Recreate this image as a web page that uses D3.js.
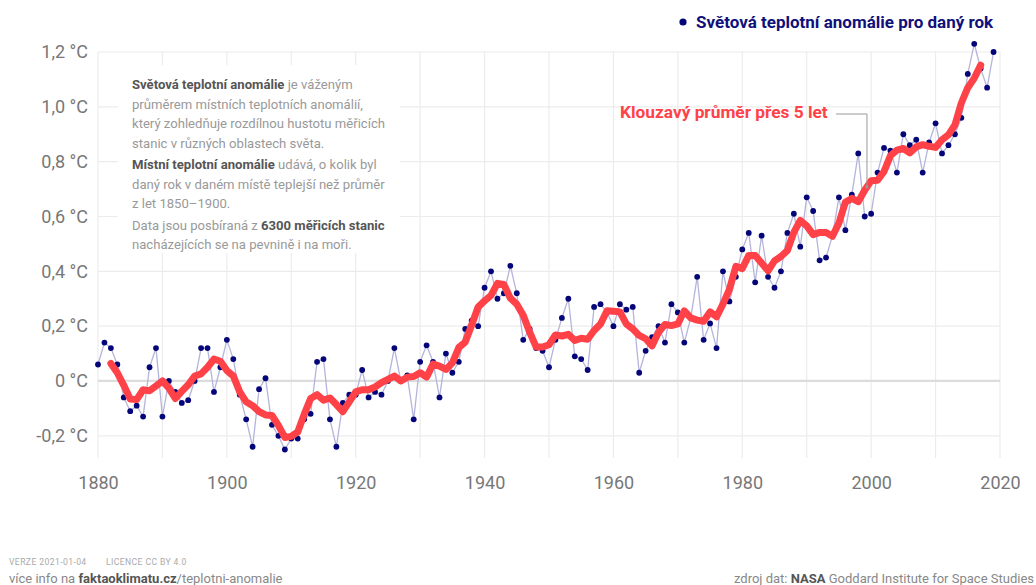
<!DOCTYPE html>
<html>
<head>
<meta charset="utf-8">
<script src="https://cdn.jsdelivr.net/npm/d3@7"></script>
<style>
  html, body { margin: 0; padding: 0; background: #fff; }
  svg { display: block; font-family: Roboto, "Noto Sans", sans-serif; }
</style>
</head>
<body>
<svg id="chart" width="1036" height="585"></svg>
<script>
// ---------- DATA ----------
const years = d3.range(1880, 2020); // 1880..2019
const anomaly = [
  0.06, 0.14, 0.12, 0.06, -0.06, -0.11, -0.09, -0.13, 0.05, 0.12,
  -0.13, 0.00, -0.04, -0.08, -0.07, 0.00, 0.12, 0.12, -0.04, 0.05,
  0.15, 0.08, -0.05, -0.14, -0.24, -0.03, 0.01, -0.16, -0.20, -0.25,
  -0.21, -0.21, -0.14, -0.12, 0.07, 0.08, -0.14, -0.24, -0.08, -0.05,
  -0.05, 0.04, -0.06, -0.04, -0.05, 0.00, 0.12, 0.00, 0.02, -0.14,
  0.07, 0.13, 0.07, -0.06, 0.10, 0.03, 0.07, 0.19, 0.22, 0.20,
  0.34, 0.40, 0.30, 0.32, 0.42, 0.32, 0.15, 0.19, 0.12, 0.11,
  0.05, 0.15, 0.23, 0.30, 0.09, 0.08, 0.04, 0.27, 0.28, 0.25,
  0.20, 0.28, 0.26, 0.27, 0.03, 0.11, 0.16, 0.20, 0.14, 0.28,
  0.25, 0.14, 0.23, 0.38, 0.15, 0.21, 0.12, 0.40, 0.29, 0.38,
  0.48, 0.54, 0.36, 0.53, 0.38, 0.34, 0.40, 0.54, 0.61, 0.49,
  0.67, 0.62, 0.44, 0.45, 0.53, 0.67, 0.55, 0.68, 0.83, 0.60,
  0.61, 0.76, 0.85, 0.84, 0.76, 0.90, 0.86, 0.88, 0.76, 0.87,
  0.94, 0.83, 0.86, 0.90, 0.96, 1.12, 1.23, 1.14, 1.07, 1.20
];
const maYears = d3.range(1882, 2018); // 1882..2017
const movingAvg = [
  0.064, 0.030, -0.016, -0.066, -0.068, -0.032, -0.036, -0.018,
  0.000, -0.026, -0.064, -0.038, -0.014, 0.018, 0.026, 0.050, 0.080, 0.072,
  0.038, 0.018, -0.040, -0.076, -0.090, -0.112, -0.124, -0.126, -0.162, -0.206,
  -0.202, -0.186, -0.122, -0.064, -0.050, -0.070, -0.062, -0.086, -0.112, -0.076,
  -0.040, -0.032, -0.032, -0.022, -0.006, 0.006, 0.018, 0.000, 0.014, 0.016,
  0.030, 0.014, 0.062, 0.054, 0.042, 0.066, 0.122, 0.142, 0.204, 0.270,
  0.292, 0.312, 0.356, 0.352, 0.302, 0.280, 0.240, 0.178, 0.124, 0.124,
  0.132, 0.168, 0.164, 0.170, 0.148, 0.156, 0.152, 0.184, 0.208, 0.256,
  0.254, 0.252, 0.208, 0.190, 0.166, 0.154, 0.128, 0.178, 0.206, 0.202,
  0.208, 0.256, 0.230, 0.222, 0.218, 0.252, 0.234, 0.280, 0.334, 0.418,
  0.410, 0.458, 0.458, 0.430, 0.402, 0.438, 0.454, 0.476, 0.542, 0.586,
  0.566, 0.534, 0.542, 0.542, 0.528, 0.576, 0.652, 0.666, 0.654, 0.696,
  0.730, 0.732, 0.764, 0.822, 0.842, 0.848, 0.832, 0.854, 0.862, 0.856,
  0.852, 0.880, 0.898, 0.934, 1.014, 1.070, 1.104, 1.152
];
const yTicks = [-0.2, 0, 0.2, 0.4, 0.6, 0.8, 1.0, 1.2];
const yTickLabels = ["-0,2 °C", "0 °C", "0,2 °C", "0,4 °C", "0,6 °C", "0,8 °C", "1,0 °C", "1,2 °C"];
const xTicks = [1880, 1900, 1920, 1940, 1960, 1980, 2000, 2020];
const xGrid = d3.range(1880, 2021, 10);
const legendLabel = "Světová teplotní anomálie pro daný rok";
const maLabel = "Klouzavý průměr přes 5 let";

// ---------- SETUP ----------
const svg = d3.select("#chart");
const plotLeft = 98, plotRight = 1000, plotTop = 52, gridBottom = 458;
const x = d3.scaleLinear().domain([1880, 2020]).range([plotLeft, plotRight]);
const y = d3.scaleLinear().domain([-0.2, 1.2]).range([435.8, plotTop]);

const annual = years.map((yr, i) => ({ yr, v: anomaly[i] }));
const ma = maYears.map((yr, i) => ({ yr, v: movingAvg[i] }));

// grid
const grid = svg.append("g");
grid.selectAll("line.v").data(xGrid).join("line")
  .attr("x1", d => x(d)).attr("x2", d => x(d))
  .attr("y1", plotTop).attr("y2", gridBottom)
  .attr("stroke", "#ececec").attr("stroke-width", 1.2);
grid.selectAll("line.h").data(yTicks).join("line")
  .attr("x1", plotLeft).attr("x2", plotRight)
  .attr("y1", d => y(d)).attr("y2", d => y(d))
  .attr("stroke", d => d === 0 ? "#dcdcdc" : "#ececec")
  .attr("stroke-width", d => d === 0 ? 2.2 : 1.2);

// axes
const yAxis = svg.append("g").attr("transform", `translate(${plotLeft},0)`)
  .call(d3.axisLeft(y).tickValues(yTicks).tickSize(0).tickPadding(10)
    .tickFormat((d, i) => yTickLabels[i]));
yAxis.select(".domain").remove();
yAxis.selectAll("text").attr("fill", "#777").attr("font-size", 18)
  .attr("font-family", "Roboto, sans-serif");

const xAxis = svg.append("g").attr("transform", `translate(0,${gridBottom})`)
  .call(d3.axisBottom(x).tickValues(xTicks).tickSize(0).tickPadding(18)
    .tickFormat(d3.format("d")));
xAxis.select(".domain").remove();
xAxis.selectAll("text").attr("fill", "#777").attr("font-size", 18)
  .attr("font-family", "Roboto, sans-serif");

// info box
svg.append("rect").attr("x", 118).attr("y", 65).attr("width", 282).attr("height", 188)
  .attr("fill", "#fff");
const infoLines = [
  [["Světová teplotní anomálie", true], [" je váženým", false]],
  [["průměrem místních teplotních anomálií,", false]],
  [["který zohledňuje rozdílnou hustotu měřicích", false]],
  [["stanic v různých oblastech světa.", false]],
  [["Místní teplotní anomálie", true], [" udává, o kolik byl", false]],
  [["daný rok v daném místě teplejší než průměr", false]],
  [["z let 1850–1900.", false]],
  [["Data jsou posbíraná z ", false], ["6300 měřicích stanic", true]],
  [["nacházejících se na pevnině i na moři.", false]]
];
const infoY = [89, 108.5, 128, 147.5, 169, 188.5, 208, 229.5, 249];
infoLines.forEach((parts, li) => {
  const t = svg.append("text").attr("x", 132).attr("y", infoY[li])
    .attr("font-size", 13.1).attr("fill", "#999");
  parts.forEach(([s, b]) => {
    t.append("tspan").text(s)
      .attr("font-weight", b ? 700 : 400)
      .attr("fill", b ? "#555" : "#999");
  });
});

// annual line + dots
svg.append("path").datum(annual)
  .attr("fill", "none").attr("stroke", "#b4b4dc").attr("stroke-width", 1.3)
  .attr("d", d3.line().x(d => x(d.yr)).y(d => y(d.v)));
svg.append("g").selectAll("circle").data(annual).join("circle")
  .attr("cx", d => x(d.yr)).attr("cy", d => y(d.v)).attr("r", 2.9)
  .attr("fill", "#05057a");

// moving average
svg.append("path").datum(ma)
  .attr("fill", "none").attr("stroke", "#ff4148").attr("stroke-width", 7)
  .attr("stroke-linejoin", "round").attr("stroke-linecap", "round")
  .attr("d", d3.line().x(d => x(d.yr)).y(d => y(d.v)));

// moving average label + leader
const leaderYear = 1999.35;
const i99 = maYears.indexOf(1999);
const leaderVal = movingAvg[i99] + (movingAvg[i99 + 1] - movingAvg[i99]) * (leaderYear - 1999);
svg.append("text").attr("x", 620).attr("y", 118).text(maLabel)
  .attr("font-size", 17.3).attr("font-weight", 700).attr("fill", "#ff4148");
svg.append("path")
  .attr("d", `M836,114 H${x(leaderYear)} V${y(leaderVal)}`)
  .attr("fill", "none").attr("stroke", "#999").attr("stroke-width", 1);
svg.append("circle").attr("cx", x(leaderYear)).attr("cy", y(leaderVal)).attr("r", 1.6)
  .attr("fill", "#999");

// legend
svg.append("circle").attr("cx", 683).attr("cy", 22).attr("r", 3.6).attr("fill", "#05057a");
svg.append("text").attr("x", 696).attr("y", 28).text(legendLabel)
  .attr("font-size", 17).attr("font-weight", 700).attr("fill", "#10107a");

// footer
svg.append("text").attr("x", 9).attr("y", 564.5).text("VERZE 2021-01-04")
  .attr("font-size", 8.6).attr("fill", "#aaa").attr("letter-spacing", 0.4);
svg.append("text").attr("x", 106).attr("y", 564.5).text("LICENCE CC BY 4.0")
  .attr("font-size", 8.6).attr("fill", "#aaa").attr("letter-spacing", 0.4);
const f1 = svg.append("text").attr("x", 9).attr("y", 583).attr("font-size", 13).attr("fill", "#888");
f1.append("tspan").text("více info na ");
f1.append("tspan").text("faktaoklimatu.cz").attr("font-weight", 700).attr("fill", "#555");
f1.append("tspan").text("/teplotni-anomalie");
const f2 = svg.append("text").attr("x", 1034).attr("y", 583).attr("text-anchor", "end")
  .attr("font-size", 13).attr("fill", "#888");
f2.append("tspan").text("zdroj dat: ");
f2.append("tspan").text("NASA").attr("font-weight", 700).attr("fill", "#555");
f2.append("tspan").text(" Goddard Institute for Space Studies");
</script>
</body>
</html>
